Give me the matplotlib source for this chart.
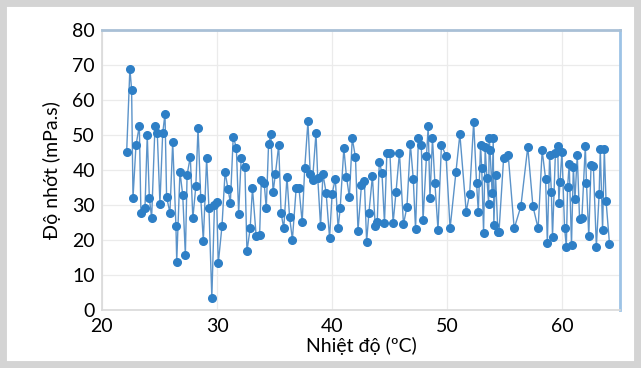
import matplotlib
matplotlib.use("Agg")
import matplotlib.pyplot as plt
from matplotlib.patches import Rectangle

# nhiệt độ (°C) và độ nhớt (mPa.s)
temp = [22.15, 22.43, 22.58, 22.70, 22.96, 23.25, 23.39, 23.74, 23.94, 24.12,
        24.32, 24.61, 24.81, 25.04, 25.28, 25.48, 25.62, 25.91, 26.15, 26.43,
        26.50, 26.78, 27.02, 27.25, 27.40, 27.68, 27.90, 28.16, 28.35, 28.59,
        28.81, 29.10, 29.30, 29.55, 29.78, 29.97, 30.11, 30.43, 30.70, 30.96,
        31.16, 31.41, 31.68, 31.88, 32.10, 32.42, 32.60, 32.88, 33.08, 33.40,
        33.70, 33.85, 34.10, 34.28, 34.48, 34.68, 34.87, 35.07, 35.36, 35.57,
        35.80, 36.08, 36.30, 36.55, 36.88, 37.12, 37.40, 37.62, 37.90, 38.10,
        38.30, 38.60, 38.75, 39.00, 39.20, 39.48, 39.78, 40.00, 40.28, 40.52,
        40.70, 41.02, 41.25, 41.50, 41.75, 42.03, 42.25, 42.55, 42.80, 43.00,
        43.20, 43.50, 43.75, 43.92, 44.10, 44.33, 44.55, 44.76, 45.02, 45.30,
        45.55, 45.85, 46.20, 46.50, 46.80, 47.05, 47.25, 47.50, 47.75, 47.90,
        48.20, 48.35, 48.50, 48.72, 48.93, 49.20, 49.50, 49.90, 50.25, 50.75,
        51.10, 51.65, 51.95, 52.30, 52.55, 52.70, 52.90, 53.00, 53.16, 53.30,
        53.45, 53.60, 53.65, 53.72, 53.90, 54.00, 54.05, 54.20, 54.40, 54.50,
        54.90, 55.30, 55.82, 56.40, 57.00, 57.45, 57.90, 58.25, 58.55, 58.70,
        58.90, 59.05, 59.15, 59.40, 59.60, 59.70, 59.80, 59.97, 60.20, 60.35,
        60.46, 60.60, 60.80, 60.96, 61.10, 61.30, 61.50, 61.70, 62.00, 62.10,
        62.30, 62.50, 62.70, 62.96, 63.20, 63.30, 63.50, 63.65, 63.80, 64.10]
visc = [45.2, 69.0, 63.0, 32.0, 47.1, 52.6, 27.6, 29.1, 50.0, 32.0,
        26.3, 52.5, 50.5, 30.4, 50.5, 56.1, 32.2, 27.8, 48.1, 24.1,
        13.8, 39.5, 32.9, 15.7, 38.6, 43.8, 26.2, 35.4, 52.0, 31.9,
        19.8, 43.3, 29.0, 3.5, 30.0, 30.9, 13.3, 23.9, 39.4, 34.5,
        30.7, 49.5, 46.4, 27.5, 43.5, 40.9, 16.7, 23.3, 34.8, 21.2,
        21.4, 37.1, 36.2, 29.0, 47.5, 50.2, 33.6, 38.8, 47.1, 27.6,
        23.3, 38.1, 26.7, 20.1, 34.9, 34.8, 25.1, 40.5, 53.9, 39.0,
        37.1, 50.6, 37.8, 23.9, 38.9, 33.5, 20.5, 33.2, 37.5, 23.3,
        29.0, 46.2, 38.0, 32.2, 49.1, 43.6, 22.6, 35.8, 36.9, 19.5,
        27.8, 38.2, 23.9, 25.0, 42.4, 39.2, 24.8, 45.0, 45.0, 24.9,
        33.6, 45.0, 24.5, 29.4, 47.4, 37.5, 23.0, 49.1, 47.1, 25.6,
        44.0, 52.6, 31.9, 49.1, 36.3, 22.9, 47.2, 44.0, 23.3, 39.3,
        50.2, 28.1, 33.2, 53.8, 36.2, 28.1, 47.1, 40.5, 22.1, 46.5,
        37.6, 30.3, 49.3, 45.7, 33.5, 49.1, 24.3, 38.6, 22.4, 22.4,
        43.3, 44.3, 23.3, 29.6, 46.6, 29.6, 23.3, 45.6, 37.5, 19.1,
        44.3, 33.8, 20.9, 44.8, 46.9, 30.7, 36.7, 45.2, 23.3, 18.1,
        35.2, 41.7, 18.6, 40.9, 31.6, 44.3, 25.9, 26.2, 46.9, 36.4,
        21.1, 41.4, 41.1, 18.1, 33.1, 45.9, 22.7, 45.9, 31.2, 18.9]

x_ticks = [20, 30, 40, 50, 60]
y_ticks = [0, 10, 20, 30, 40, 50, 60, 70, 80]

plt.rcParams["font.family"] = ["Lato", "DejaVu Sans"]

fig = plt.figure(figsize=(6.41, 3.68), dpi=100)
fig.patch.set_facecolor("white")
# khung xám bao quanh hình
fig.patches.append(Rectangle((0, 0), 1, 1, transform=fig.transFigure,
                             fill=False, edgecolor="#d4d4d4", linewidth=10))

ax = fig.add_axes([0.159, 0.158, 0.808, 0.76])
ax.plot(temp, visc, color="#5b93c9", linewidth=1.0, marker="o",
        markersize=5.5, markerfacecolor="#2e7fc6", markeredgecolor="#2e7fc6",
        zorder=3)

ax.set_xlim(20, 65)
ax.set_ylim(0, 80)
ax.set_xticks(x_ticks)
ax.set_yticks(y_ticks)
ax.grid(True, color="#ebebeb", linewidth=0.9)
ax.set_axisbelow(True)
ax.tick_params(axis="y", length=0, labelsize=14, pad=5)
ax.tick_params(axis="x", length=0, labelsize=14, pad=6)

for side in ["left", "bottom"]:
    ax.spines[side].set_color("#d9d9d9")
    ax.spines[side].set_linewidth(1.2)
ax.spines["top"].set_color("#a9c0d6")
ax.spines["top"].set_linewidth(2)
ax.spines["right"].set_color("#9dc3e6")
ax.spines["right"].set_linewidth(2)

ax.set_xlabel("Nhiệt độ (ºC)", fontsize=14, labelpad=1)
ax.set_ylabel("Độ nhớt (mPa.s)", fontsize=14, labelpad=8)

fig.savefig("out.png", dpi=100)
